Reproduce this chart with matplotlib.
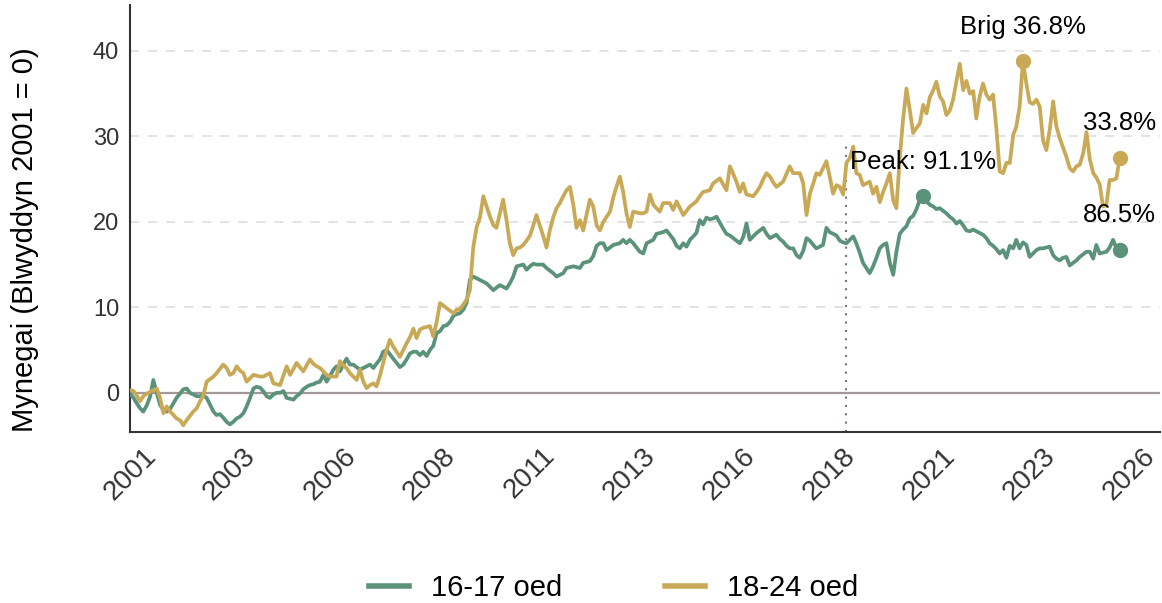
import pandas as pd
import matplotlib.pyplot as plt

plt.rcParams['font.family'] = ['Liberation Sans', 'DejaVu Sans']

# monthly index values, Jan 2001 - Oct 2025
age_16_17 = [
    -0.1, -0.6, -1.2, -1.8, -2.2, -1.5, -0.5, 1.5, 0.0, -1.4, -2.0, -2.2,
    -1.9, -1.2, -0.6, -0.1, 0.4, 0.5, 0.0, -0.2, -0.4, -0.4, -0.3, -0.6,
    -1.4, -2.2, -2.6, -2.5, -2.9, -3.4, -3.7, -3.4, -3.0, -2.8, -2.4, -1.6,
    -0.6, 0.5, 0.7, 0.6, 0.2, -0.4, -0.6, -0.2, 0.0, 0.0, 0.2, -0.6,
    -0.7, -0.8, -0.4, -0.1, 0.4, 0.7, 0.9, 1.0, 1.2, 1.3, 2.1, 1.3,
    2.0, 2.7, 3.1, 2.5, 3.3, 4.0, 3.3, 3.3, 3.0, 2.7, 2.9, 3.1,
    3.3, 2.9, 3.4, 3.9, 4.8, 5.0, 4.5, 4.0, 3.5, 3.0, 3.3, 3.9,
    4.6, 4.8, 4.8, 4.4, 4.8, 4.3, 5.0, 5.5, 7.0, 7.2, 7.8, 7.9,
    8.3, 9.0, 9.2, 9.3, 9.7, 10.5, 13.2, 13.6, 13.4, 13.2, 13.0, 12.8,
    12.4, 12.0, 12.3, 12.6, 12.4, 12.2, 12.8, 13.6, 14.8, 14.9, 15.0, 14.4,
    14.8, 15.1, 15.0, 15.0, 15.0, 14.6, 14.3, 14.0, 13.6, 13.8, 14.0, 14.6,
    14.7, 14.8, 14.7, 14.6, 15.2, 15.3, 15.4, 16.0, 17.2, 17.5, 17.5, 16.7,
    17.0, 17.3, 17.4, 17.5, 17.9, 17.5, 17.9, 17.5, 17.0, 16.5, 16.3, 17.5,
    17.7, 17.9, 18.6, 18.7, 18.8, 19.0, 18.5, 18.0, 17.2, 16.9, 17.5, 17.1,
    17.9, 18.3, 18.7, 20.2, 19.7, 20.5, 20.3, 20.4, 20.6, 19.9, 19.2, 18.6,
    18.4, 18.1, 17.8, 17.5, 18.2, 19.8, 17.9, 18.3, 18.7, 19.0, 19.3, 18.6,
    18.1, 18.3, 18.5, 18.0, 17.7, 17.2, 16.9, 16.9, 16.1, 15.8, 16.6, 18.1,
    17.8, 17.3, 16.9, 17.1, 17.3, 19.3, 18.8, 18.6, 18.4, 17.8, 17.6, 17.5,
    17.9, 18.3, 17.5, 16.4, 15.2, 14.6, 14.0, 14.8, 15.8, 16.9, 17.3, 17.5,
    15.2, 13.8, 16.5, 18.6, 19.1, 19.5, 20.4, 20.7, 21.5, 22.6, 23.0, 22.4,
    22.0, 21.8, 21.5, 21.6, 21.3, 21.0, 20.6, 20.3, 19.8, 20.1, 19.6, 19.0,
    18.9, 19.1, 18.9, 18.7, 18.5, 18.1, 17.5, 17.2, 16.8, 16.3, 16.7, 15.8,
    17.2, 16.9, 17.9, 16.9, 17.6, 17.3, 15.9, 16.3, 16.7, 16.9, 16.9, 17.0,
    17.1, 16.1, 15.7, 15.5, 15.8, 15.9, 14.9, 15.2, 15.5, 15.9, 16.2, 16.5,
    16.5, 15.7, 17.3, 16.3, 16.4, 16.5, 17.0, 17.9, 16.9, 16.7,
]

age_18_24 = [
    0.3, 0.2, -0.3, -1.0, -0.4, -0.1, 0.1, 0.3, 0.5, -0.6, -2.4, -1.6,
    -2.2, -2.6, -3.0, -3.2, -3.8, -3.2, -2.7, -2.2, -1.8, -1.0, -0.3, 1.3,
    1.6, 1.9, 2.3, 2.8, 3.3, 2.9, 2.1, 2.3, 3.1, 2.6, 2.3, 1.3,
    1.7, 2.1, 2.0, 1.9, 1.9, 2.1, 2.3, 1.1, 1.0, 0.9, 2.0, 3.1,
    2.1, 2.8, 3.5, 3.0, 2.5, 3.2, 3.9, 3.4, 3.1, 2.9, 2.5, 2.1,
    1.9, 1.9, 1.9, 3.7, 3.2, 2.9, 2.3, 1.9, 1.5, 2.7, 1.3, 0.55,
    0.9, 1.1, 0.74, 2.0, 3.5, 5.0, 6.2, 5.4, 4.8, 4.2, 5.0, 5.8,
    6.5, 7.5, 6.4, 7.4, 7.6, 7.7, 7.8, 6.6, 8.3, 10.5, 10.2, 9.9,
    9.6, 9.3, 9.7, 9.8, 10.3, 10.9, 12.0, 17.0, 19.4, 20.5, 23.0, 21.8,
    20.6, 19.6, 19.3, 21.0, 22.6, 20.2, 17.5, 16.1, 16.9, 17.0, 17.3, 17.8,
    18.4, 19.6, 20.8, 19.6, 18.4, 17.0, 19.0, 20.5, 21.6, 22.2, 23.0, 23.7,
    24.1, 22.0, 19.3, 20.2, 19.0, 20.8, 22.6, 21.8, 19.6, 19.0, 20.0, 20.6,
    21.2, 22.9, 24.1, 25.3, 23.5, 21.0, 19.4, 21.2, 21.1, 21.0, 21.0, 21.2,
    23.2, 22.0, 21.6, 21.2, 22.2, 22.2, 22.2, 21.4, 22.4, 21.6, 20.8, 21.3,
    21.8, 22.1, 22.4, 23.0, 23.5, 23.6, 23.7, 24.5, 24.8, 25.1, 24.4, 23.7,
    26.5, 25.6, 24.7, 23.5, 24.5, 23.2, 23.1, 23.0, 23.5, 24.1, 25.0, 25.7,
    25.3, 24.6, 24.1, 24.4, 24.7, 25.6, 26.5, 25.7, 25.7, 25.7, 24.5, 20.8,
    23.3, 24.5, 25.7, 25.5, 26.3, 27.1, 25.3, 23.3, 24.3, 24.1, 23.2, 26.9,
    27.5, 28.8, 25.7, 25.5, 24.3, 24.5, 24.7, 23.3, 24.1, 22.3, 23.5, 24.5,
    25.7, 22.5, 21.6, 27.5, 32.0, 35.6, 33.1, 30.4, 31.0, 31.5, 33.7, 32.7,
    34.6, 35.4, 36.4, 34.7, 34.1, 32.5, 33.0, 34.3, 36.5, 38.5, 35.4, 36.5,
    35.0, 35.3, 32.1, 34.7, 36.2, 34.9, 34.3, 34.9, 30.8, 25.9, 25.7, 26.9,
    26.9, 30.2, 31.1, 33.5, 38.8, 36.2, 34.0, 33.8, 34.3, 33.5, 29.5, 28.4,
    30.8, 34.1, 31.2, 29.8, 28.7, 27.6, 26.3, 25.9, 26.5, 26.7, 28.0, 30.5,
    27.3, 25.7, 25.2, 24.4, 21.8, 22.0, 24.9, 24.9, 25.1, 27.5,
]

dates = pd.date_range("2001-01-01", periods=len(age_16_17), freq="MS")
tick_years = ["2001", "2003", "2006", "2008", "2011", "2013",
              "2016", "2018", "2021", "2023", "2026"]
tick_dates = pd.date_range("2001-01-01", periods=len(tick_years), freq="30MS")
policy_date = pd.Timestamp("2018-12-01")

green = "#5b937a"
gold = "#c9a956"

fig = plt.figure(figsize=(11.62, 6.03), dpi=100)
ax = fig.add_axes([0.112, 0.284, 0.886, 0.708])

for y in [10, 20, 30, 40]:
    ax.axhline(y, color="#e0e0e0", lw=1.3, ls=(0, (5, 5)), zorder=0)
ax.axhline(0, color="#a39898", lw=1.6, zorder=1)
ax.vlines(policy_date, -4.56, 29.3, color="#7d7272", lw=1.5,
          linestyles=(0, (1, 3)), zorder=1)

ax.plot(dates, age_16_17, color=green, lw=2.7, label="16-17 oed", zorder=3)
ax.plot(dates, age_18_24, color=gold, lw=2.7, label="18-24 oed", zorder=3)

# highlighted points
s1 = pd.Series(age_16_17, index=dates)
s2 = pd.Series(age_18_24, index=dates)
g_peak = s1.idxmax()
y_peak = s2.idxmax()
pts = [
    (g_peak, s1[g_peak], green, "Peak: 91.1%"),
    (y_peak, s2[y_peak], gold, "Brig 36.8%"),
    (dates[-1], s2.iloc[-1], gold, "33.8%"),
    (dates[-1], s1.iloc[-1], green, "86.5%"),
]
for d, v, c, txt in pts:
    ax.plot(d, v, "o", color=c, ms=10, zorder=4)
    ax.annotate(txt, (d, v), xytext=(0, 25), textcoords="offset points",
                ha="center", va="center", fontsize=18.5, color="black")

ax.set_xlim(pd.Timestamp("2001-01-01"), pd.Timestamp("2026-10-01"))
ax.set_ylim(-4.56, 45.4)
ax.set_yticks([0, 10, 20, 30, 40])
ax.set_xticks(tick_dates)
ax.set_xticklabels(tick_years, rotation=45, ha="center")
ax.tick_params(axis="y", length=0, labelsize=17, colors="#333333", pad=8)
ax.tick_params(axis="x", length=0, labelsize=20, colors="#333333", pad=8)
ax.set_ylabel("Mynegai (Blwyddyn 2001 = 0)", fontsize=21, color="black")
ax.yaxis.set_label_coords(-0.089, 0.45)

for side in ["top", "right"]:
    ax.spines[side].set_visible(False)
for side in ["left", "bottom"]:
    ax.spines[side].set_color("#333333")
    ax.spines[side].set_linewidth(1.5)

leg = fig.legend(loc="center", ncol=2, frameon=False, fontsize=21,
                 bbox_to_anchor=(0.528, 0.025), handlelength=1.4,
                 columnspacing=3.5, handletextpad=0.75)
for h in leg.legend_handles:
    h.set_linewidth(4)

fig.savefig("out.png", dpi=100)
